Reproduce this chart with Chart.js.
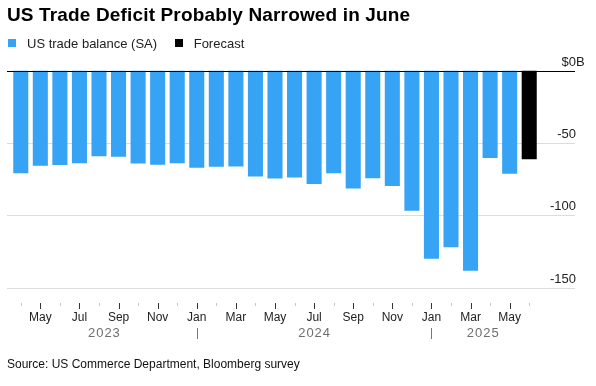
<!DOCTYPE html>
<html>
<head>
<meta charset="utf-8">
<script src="https://cdn.jsdelivr.net/npm/chart.js@4"></script>
<style>
  html, body { margin: 0; padding: 0; background: #fff; }
  body { width: 596px; height: 386px; position: relative; overflow: hidden; font-family: "Liberation Sans", Arial, Helvetica, sans-serif; }
  #title { position: absolute; left: 7px; top: 4px; font-size: 19px; letter-spacing: 0.15px; font-weight: bold; color: #000; white-space: nowrap; }
  #legend { position: absolute; left: 8px; top: 35px; font-size: 13px; color: #222; white-space: nowrap; }
  #legend span.item { display: inline-flex; align-items: center; margin-right: 14px; }
  #legend i { display: inline-block; width: 8px; height: 8px; margin-right: 11px; }
  #source { position: absolute; left: 7px; top: 357px; font-size: 12px; color: #111; white-space: nowrap; }
  #wrap { position: absolute; left: 0; top: 0; width: 596px; height: 386px; }
</style>
</head>
<body>
<div id="wrap"><canvas id="c" width="596" height="386"></canvas></div>
<div id="title">US Trade Deficit Probably Narrowed in June</div>
<div id="legend">
  <span class="item"><i style="background:#36a3f5"></i>US trade balance (SA)</span>
  <span class="item"><i style="background:#000"></i>Forecast</span>
</div>
<div id="source">Source: US Commerce Department, Bloomberg survey</div>
<script>
// ---- data ----
const categories = ['Apr 2023','May 2023','Jun 2023','Jul 2023','Aug 2023','Sep 2023','Oct 2023','Nov 2023','Dec 2023',
  'Jan 2024','Feb 2024','Mar 2024','Apr 2024','May 2024','Jun 2024','Jul 2024','Aug 2024','Sep 2024','Oct 2024','Nov 2024','Dec 2024',
  'Jan 2025','Feb 2025','Mar 2025','Apr 2025','May 2025','Jun 2025'];
const balance = [-71.1, -65.9, -65.4, -64.1, -59.2, -59.7, -64.3, -65.2, -64.1,
  -67.3, -66.6, -66.3, -73.2, -74.6, -73.9, -78.5, -71.1, -81.5, -74.4, -79.9, -96.9,
  -130.2, -122.1, -138.4, -60.4, -71.4, null];
const forecast = [null, null, null, null, null, null, null, null, null,
  null, null, null, null, null, null, null, null, null, null, null, null,
  null, null, null, null, null, -61.3];
const yTicks = [0, -50, -100, -150];
const labeledMonths = ['Jan','Mar','May','Jul','Sep','Nov'];

const FONT = '"Liberation Sans", Arial, Helvetica, sans-serif';

const axisPlugin = {
  id: 'bbgAxes',
  beforeDatasetsDraw(chart) {
    const ctx = chart.ctx, y = chart.scales.y;
    ctx.save();
    ctx.strokeStyle = '#dcdcdc';
    ctx.lineWidth = 1;
    yTicks.forEach(v => {
      if (v === 0) return;
      const py = Math.round(y.getPixelForValue(v)) + 0.5;
      ctx.beginPath(); ctx.moveTo(7, py); ctx.lineTo(575, py); ctx.stroke();
    });
    ctx.restore();
  },
  afterDatasetsDraw(chart) {
    const ctx = chart.ctx, y = chart.scales.y, x = chart.scales.x;
    ctx.save();
    // zero line
    const p0 = Math.round(y.getPixelForValue(0)) + 0.5;
    ctx.strokeStyle = '#000'; ctx.lineWidth = 1;
    ctx.beginPath(); ctx.moveTo(7, p0); ctx.lineTo(575, p0); ctx.stroke();
    // y labels
    ctx.font = '13px ' + FONT;
    ctx.fillStyle = '#222';
    ctx.textBaseline = 'alphabetic';
    yTicks.forEach(v => {
      const py = y.getPixelForValue(v) - 5;
      ctx.textAlign = 'right';
      ctx.fillText(v === 0 ? '$0' : String(v), 576, py);
      if (v === 0) { ctx.textAlign = 'left'; ctx.fillText('B', 576, py); }
    });
    // x ticks
    const slot = x.getPixelForValue(1) - x.getPixelForValue(0);
    const tickTop = 303;
    categories.forEach((c, i) => {
      const m = c.split(' ')[0];
      const px = Math.round(x.getPixelForValue(i)) + 0.5;
      const major = labeledMonths.includes(m);
      ctx.strokeStyle = major ? '#333' : '#c8c8c8';
      ctx.beginPath(); ctx.moveTo(px, tickTop); ctx.lineTo(px, tickTop + (major ? 6 : 3)); ctx.stroke();
      if (major) {
        ctx.font = '12px ' + FONT;
        ctx.fillStyle = '#222';
        ctx.textAlign = 'center';
        ctx.textBaseline = 'middle';
        ctx.fillText(m, x.getPixelForValue(i), 318);
      }
    });
    // years
    const yearsList = [...new Set(categories.map(c => c.split(' ')[1]))];
    const firstIdx = yr => categories.findIndex(c => c.endsWith(yr));
    const lastIdx = yr => { let k = -1; categories.forEach((c, i) => { if (c.endsWith(yr)) k = i; }); return k; };
    ctx.font = '13px ' + FONT;
    ctx.fillStyle = '#6e6e6e';
    ctx.textAlign = 'center';
    ctx.textBaseline = 'middle';
    try { ctx.letterSpacing = '1px'; } catch (e) {}
    yearsList.forEach((yr, k) => {
      const fi = firstIdx(yr), li = lastIdx(yr);
      const left = k === 0 ? x.getPixelForValue(fi) - slot / 2 : x.getPixelForValue(fi);
      const right = k === yearsList.length - 1 ? x.getPixelForValue(li) + slot / 4 : x.getPixelForValue(li + 1);
      ctx.fillText(yr, (left + right) / 2 + 0.5, 333);
      if (k > 0) {
        const sx = Math.round(x.getPixelForValue(fi)) + 0.5;
        ctx.strokeStyle = '#777';
        ctx.beginPath(); ctx.moveTo(sx, 328); ctx.lineTo(sx, 339); ctx.stroke();
      }
    });
    ctx.restore();
  }
};

new Chart(document.getElementById('c'), {
  type: 'bar',
  data: {
    labels: categories,
    datasets: [
      { label: 'US trade balance (SA)', data: balance, backgroundColor: '#36a3f5', grouped: false,
        barPercentage: 0.77, categoryPercentage: 1.0 },
      { label: 'Forecast', data: forecast, backgroundColor: '#000000', grouped: false,
        barPercentage: 0.77, categoryPercentage: 1.0 }
    ]
  },
  options: {
    responsive: false,
    animation: false,
    events: [],
    layout: { padding: { left: 11, right: 57, top: 70.5, bottom: 98.5 } },
    plugins: { legend: { display: false }, tooltip: { enabled: false }, title: { display: false } },
    scales: {
      x: { display: false, offset: true },
      y: { display: false, min: -150, max: 0 }
    }
  },
  plugins: [axisPlugin]
});
</script>
</body>
</html>
